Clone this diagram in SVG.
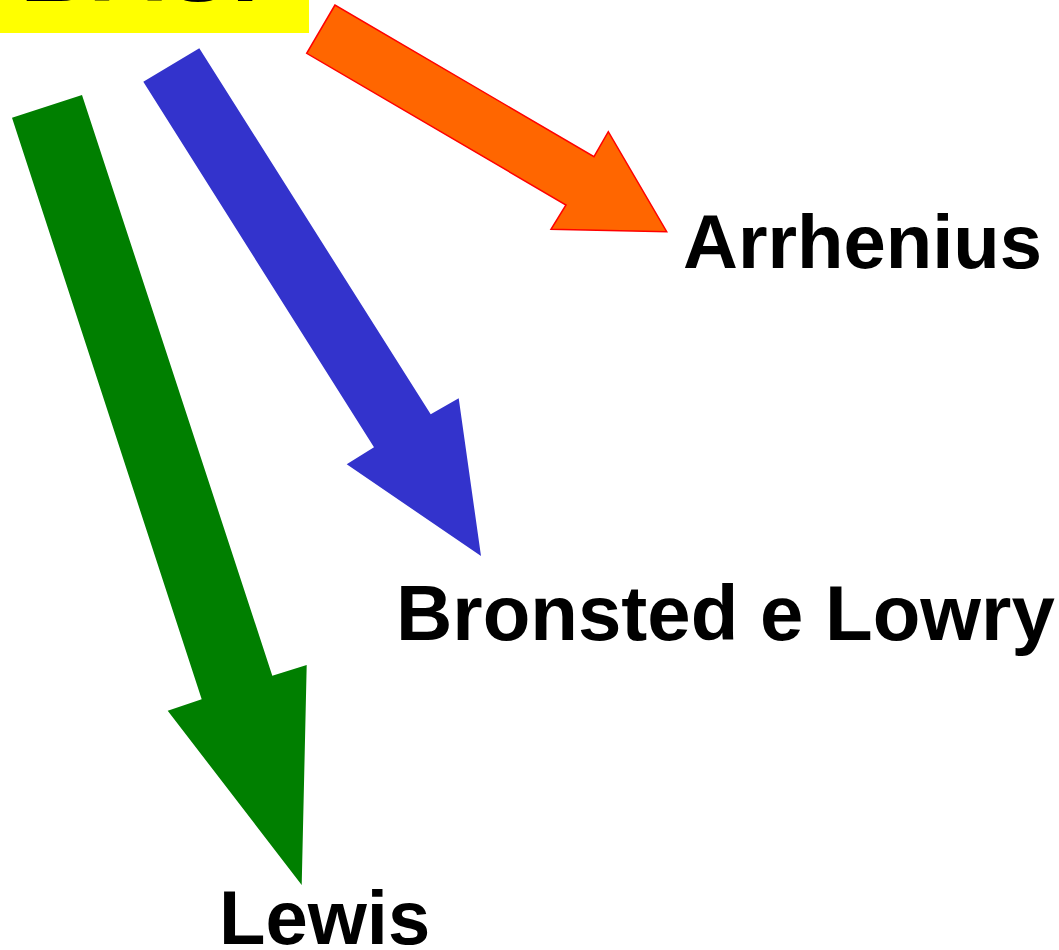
<svg xmlns="http://www.w3.org/2000/svg" width="1059" height="950" viewBox="0 0 1059 950">
  <style>
    .lbl { font-family: "Liberation Sans", Arial, sans-serif; font-weight: bold; fill: #000000; }
  </style>
  <rect x="0" y="0" width="1059" height="950" fill="#FFFFFF"/>
  <g id="node-basi">
    <rect x="0" y="0" width="309" height="33" fill="#FFFF00"/>
    <text class="lbl" x="20" y="1" font-size="100">BASI</text>
  </g>
  <g id="connectors">
    <polygon id="arrow-arrhenius" points="335,5 306.7,53.3 566,205 551,229.3 666.7,231.7 608.3,131.7 594,156.7" fill="#FF6600" stroke="#FF0000" stroke-width="1.5" stroke-linejoin="miter"/>
    <polygon id="arrow-bronsted" points="199.3,48.3 143.3,81.7 374,447.3 346.7,464.3 481,556 458.7,398.3 430.7,414.3" fill="#3333CC"/>
    <polygon id="arrow-lewis" points="82,95 12,117.7 201.7,699.3 167.7,710.7 301.7,885 306.7,665 272.3,675.7" fill="#007F00"/>
  </g>
  <g id="node-arrhenius">
    <text class="lbl" x="683" y="268" font-size="76">Arrhenius</text>
  </g>
  <g id="node-bronsted">
    <text class="lbl" x="396" y="640" font-size="78">Bronsted e Lowry</text>
  </g>
  <g id="node-lewis">
    <text class="lbl" x="219" y="944" font-size="76">Lewis</text>
  </g>
</svg>
